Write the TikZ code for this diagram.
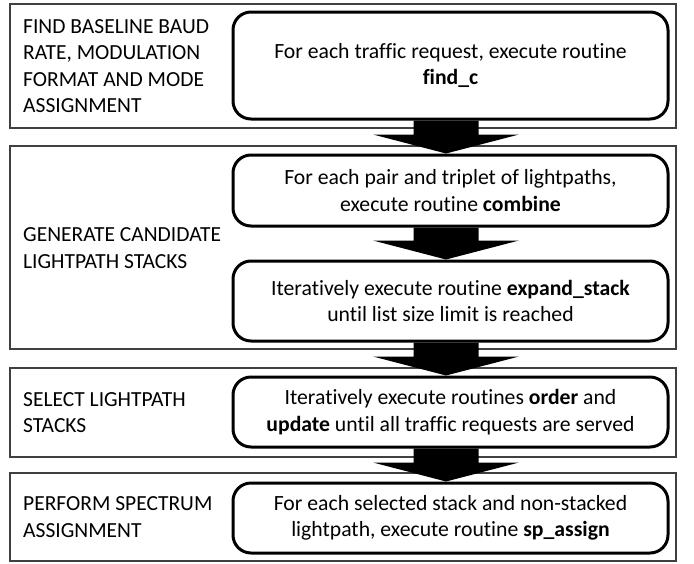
\documentclass[tikz,border=0pt]{standalone}
\usepackage{fontspec}
\setmainfont{Carlito}[Ligatures={NoCommon}]
\usetikzlibrary{calc}
\tikzset{
  outerbox/.style={draw=black!75, line width=1.2pt, rectangle, minimum width=666pt, inner sep=0pt},
  stepbox/.style={draw=black, line width=3pt, rounded corners=18pt, rectangle, minimum width=435pt, inner sep=0pt, align=center, font=\fontsize{21.7}{26.5}\selectfont},
  phaselabel/.style={anchor=west, align=left, inner sep=0pt, font=\fontsize{21.5}{26.3}\selectfont},
}
\newcommand\bigarr[2]{%
  \fill[black] ($(#1.south)+(-37,0)$) -- ($(#1.south)+(28,0)$) -- ($(#2.north)+(28,-19)$) --
    ($(#2.north)+(68.5,-19)$) -- ($(#2.north)+(-4.5,0)$) -- ($(#2.north)+(-77.5,-19)$) --
    ($(#2.north)+(-37,-19)$) -- cycle;}
\begin{document}
\begin{tikzpicture}[x=1pt, y=-1pt]
\useasboundingbox (0,0) rectangle (694,563);
\fill[white] (0,0) rectangle (694,563);
% outer phase boxes
\node[outerbox, minimum height=124pt] (b1) at (343,66) {};
\node[outerbox, minimum height=203pt] (b2) at (343,247.5) {};
\node[outerbox, minimum height=89pt] (b3) at (343,412.5) {};
\node[outerbox, minimum height=88pt] (b4) at (343,517) {};
% phase labels
\node[phaselabel] (l1) at (23,66) {FIND BASELINE BAUD\\RATE, MODULATION\\FORMAT AND MODE\\ASSIGNMENT};
\node[phaselabel] (l2) at (23,248) {GENERATE CANDIDATE\\LIGHTPATH STACKS};
\node[phaselabel] (l3) at (23,412.5) {SELECT LIGHTPATH\\STACKS};
\node[phaselabel] (l4) at (23,517) {PERFORM SPECTRUM\\ASSIGNMENT};
% step boxes
\node[stepbox, fill=white, minimum height=107pt] (r1) at (450.5,65.5) {For each traffic request, execute routine\\\textbf{find\_c}};
\node[stepbox, fill=white, minimum height=71pt] (r2) at (450.5,190.5) {For each pair and triplet of lightpaths,\\execute routine \textbf{combine}};
\node[stepbox, fill=white, minimum height=80pt] (r3) at (450.5,301) {Iteratively execute routine \textbf{expand\_stack}\\until list size limit is reached};
\node[stepbox, fill=white, minimum height=70pt] (r4) at (450.5,412) {Iteratively execute routines \textbf{order} and\\\textbf{update} until all traffic requests are served};
\node[stepbox, fill=white, minimum height=70pt] (r5) at (450.5,518) {For each selected stack and non-stacked\\lightpath, execute routine \textbf{sp\_assign}};
% big arrows
\bigarr{r1}{r2}
\bigarr{r2}{r3}
\bigarr{r3}{r4}
\bigarr{r4}{r5}
\end{tikzpicture}
\end{document}
